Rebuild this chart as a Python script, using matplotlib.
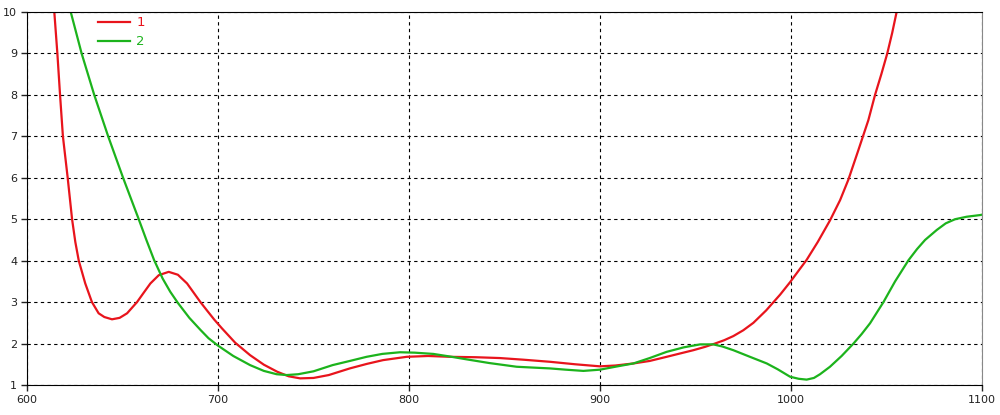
import matplotlib
matplotlib.use("Agg")
import matplotlib.pyplot as plt

# ---------- curve 1 (red)
x1 = [613.5, 614.3, 615.9, 617.3, 618.8, 621.3, 623.6, 625.3, 627.1, 630.5, 634.0,
      637.5, 640.5, 644.5, 648.5, 652.4, 657.6, 661.0, 664.6, 669.0, 674.2,
      679.0, 683.8, 690.8, 694.2, 698.0, 702.0, 709.0, 716.8, 724.0, 731.0, 737.0,
      743.0, 750.0, 758.0, 769.0, 778.0, 786.4, 798.8, 810.0, 821.5, 835.0, 847.6,
      860.0, 873.8, 887.0, 900.0, 908.0, 917.5, 926.0, 934.9, 941.0, 948.9, 955.0,
      960.2, 965.0, 969.8, 975.0, 980.3, 987.0, 994.3, 999.5, 1004.0, 1008.2,
      1014.0, 1020.4, 1025.7, 1030.0, 1035.0, 1040.5, 1044.0, 1047.3, 1050.4,
      1053.0, 1055.3, 1056.5]
y1 = [10.6, 10.0, 9.0, 8.0, 7.0, 6.0, 5.0, 4.45, 4.0, 3.45, 3.0,
      2.73, 2.64, 2.585, 2.62, 2.73, 3.0, 3.22, 3.45, 3.65, 3.73,
      3.66, 3.45, 3.0, 2.80, 2.58, 2.37, 2.02, 1.72, 1.49, 1.32, 1.21,
      1.16, 1.17, 1.24, 1.40, 1.51, 1.60, 1.68, 1.70, 1.68, 1.67, 1.65,
      1.61, 1.56, 1.50, 1.45, 1.47, 1.52, 1.58, 1.68, 1.75, 1.84, 1.92,
      2.0, 2.08, 2.18, 2.32, 2.50, 2.80, 3.18, 3.48, 3.76, 4.02,
      4.45, 4.97, 5.46, 5.95, 6.63, 7.39, 8.0, 8.5, 9.0,
      9.5, 10.0, 10.4]

# ---------- curve 2 (green)
x2 = [621.5, 622.9, 628.6, 635.2, 642.5, 650.3, 658.5, 662.5, 666.5, 671.0, 675.0,
      679.0, 685.0, 690.8, 695.0, 700.0, 708.0, 716.8, 724.0, 730.7, 736.0, 742.0,
      750.0, 760.0, 769.0, 777.8, 786.0, 795.3, 803.0, 812.7, 821.0, 830.0, 842.0,
      856.4, 865.0, 873.8, 882.0, 891.3, 900.0, 908.0, 917.5, 926.0, 934.9, 944.0,
      952.4, 959.3, 964.0, 969.8, 978.5, 987.3, 993.0, 999.5, 1004.0, 1008.2,
      1012.0, 1015.2, 1020.4, 1026.5, 1032.7, 1037.0, 1041.4, 1048.4, 1054.5,
      1061.5, 1066.0, 1070.2, 1076.3, 1081.0, 1085.9, 1092.0, 1099.0, 1100.0]
y2 = [10.4, 10.0, 9.0, 8.0, 7.0, 6.0, 5.0, 4.5, 4.02, 3.57, 3.25,
      2.98, 2.62, 2.33, 2.13, 1.95, 1.70, 1.48, 1.34, 1.26, 1.24, 1.26,
      1.33, 1.48, 1.58, 1.68, 1.75, 1.79, 1.78, 1.75, 1.69, 1.62, 1.53,
      1.44, 1.42, 1.40, 1.37, 1.34, 1.37, 1.44, 1.52, 1.65, 1.80, 1.91,
      1.98, 1.98, 1.93, 1.84, 1.68, 1.52, 1.38, 1.20, 1.15, 1.13,
      1.17, 1.26, 1.44, 1.70, 2.0, 2.23, 2.49, 3.0, 3.50,
      4.01, 4.28, 4.50, 4.74, 4.90, 5.0, 5.06, 5.10, 5.11]

x_ticks = [600, 700, 800, 900, 1000, 1100]
y_ticks = [1, 2, 3, 4, 5, 6, 7, 8, 9, 10]

fig = plt.figure(figsize=(10, 4.15), dpi=100)
ax = fig.add_axes([0.027, 0.0723, 0.955, 0.8988])

ax.plot(x1, y1, color="#e8141c", lw=1.6, label="1")
ax.plot(x2, y2, color="#1cb31c", lw=1.6, label="2")

ax.set_xlim(600, 1100)
ax.set_ylim(1, 10)
ax.set_xticks(x_ticks)
ax.set_yticks(y_ticks)
ax.tick_params(labelsize=8, length=4, width=1, colors="#222222", pad=3)
ax.grid(True, color="black", linestyle=(0, (3, 3)), linewidth=0.8)

for s in ["left", "bottom", "top"]:
    ax.spines[s].set_color("black")
ax.spines["right"].set_color("#888888")

leg = ax.legend(loc="upper left", bbox_to_anchor=(0.0743, 0.988), frameon=False,
                fontsize=9.5, labelcolor="linecolor", handlelength=2.4,
                handletextpad=0.5, labelspacing=0.45, borderaxespad=0,
                borderpad=0)

fig.savefig("out.png", dpi=100)
